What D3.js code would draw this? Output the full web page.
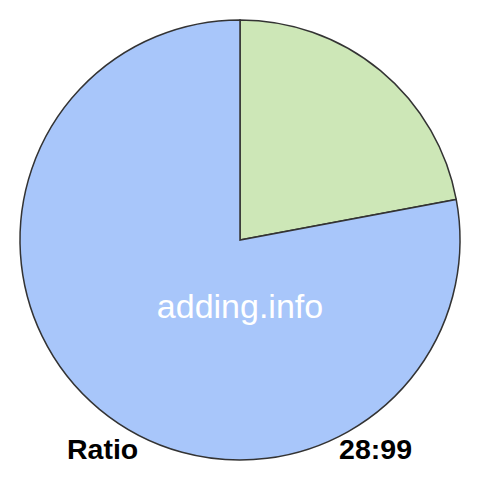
<!DOCTYPE html>
<html>
<head>
<meta charset="utf-8">
<script src="https://cdn.jsdelivr.net/npm/d3@7"></script>
<style>
  body { margin: 0; background: #fff; }
  text { font-family: "Liberation Sans", Arial, sans-serif; }
</style>
</head>
<body>
<div id="chart"></div>
<script>
// data
let labels = ["28", "99"];
let values = [28, 99];
let colors = ["#cde7b7", "#a8c6fa"];

let width = 480;
let height = 480;
let radius = 220;

let svg = d3.select("#chart").append("svg").attr("width", width).attr("height", height);

let pieGroup = svg.append("g").attr("transform", `translate(240, 240)`);

let pie = d3.pie().sort(null).value(d => d);
let arc = d3.arc().innerRadius(0).outerRadius(radius);

pieGroup.selectAll("path")
    .data(pie(values))
    .enter()
    .append("path")
    .attr("d", arc)
    .attr("fill", (d, i) => colors[i])
    .attr("stroke", "#333")
    .attr("stroke-width", 1.5);

// watermark
svg.append("text").attr("x", 240).attr("y", 318).attr("text-anchor", "middle")
    .attr("fill", "#fff").attr("font-size", "34px").text("adding.info");

// bottom labels
svg.append("text").attr("x", 67).attr("y", 459).attr("font-size", "28.5px")
    .attr("font-weight", "bold").text("Ratio");

svg.append("text").attr("x", 412).attr("y", 459).attr("text-anchor", "end").attr("font-size", "28.5px")
    .attr("font-weight", "bold").text(labels.join(":"));
</script>
</body>
</html>
